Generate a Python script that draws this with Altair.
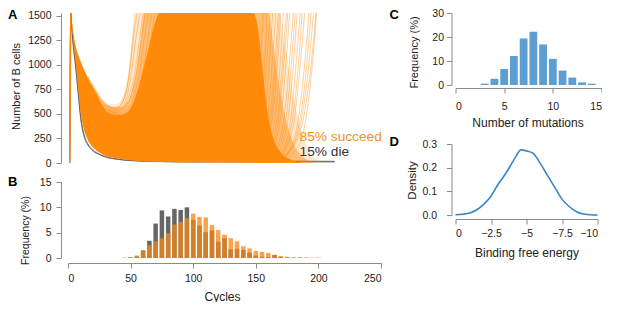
import altair as alt
import pandas as pd

FONT = "Liberation Sans"
ORANGE = "#ff8a0a"
ORANGE_TXT = "#f7901e"
BAR_ORANGE = "#f78813"
BAR_GRAY = "#666666"
BLUE = "#5e9fd3"
LINE_BLUE = "#3a85c4"
AXC = "#8a8a8a"
LAB = "#222222"

# ---------------- Panel A : trajectories ----------------
core_cycle = [2.2, 3, 4, 5, 6, 8, 10, 12, 14, 16, 18, 20, 23, 26, 30, 35, 40, 45, 50, 55,
              60, 65, 70, 73, 100, 130, 148, 152, 155, 158, 161, 164, 168, 172, 177, 182, 187]
core_high = [1530, 1450, 1360, 1270, 1200, 1110, 1040, 975, 920, 865, 815, 770, 700, 620, 540,
             500, 490, 500, 560, 720, 950, 1200, 1450, 1530, 1530, 1530, 1530, 1350, 1000, 650,
             400, 250, 140, 80, 40, 15, 3]
core_low = [1530, 1400, 1280, 1150, 1045, 780, 520, 380, 290, 230, 190, 160, 125, 100, 75,
            58, 45, 35, 28, 22, 18, 15, 12, 11, 7, 5, 4, 4, 4, 3, 3, 3, 3, 2, 2, 1, 1]

med_cycle = [16, 20, 25, 30, 35, 40, 45, 50, 54, 58, 61, 100, 160, 164, 168, 172, 176, 180,
             185, 190, 196]
med_high = [890, 800, 690, 610, 575, 565, 590, 690, 900, 1250, 1530, 1530, 1530, 1200, 850,
            560, 350, 200, 100, 40, 10]
med_low = [230, 160, 108, 75, 58, 45, 35, 28, 23, 20, 18, 7, 3, 3, 3, 2, 2, 1, 1, 1, 0]

halo_cycle = [22, 26, 30, 35, 40, 44, 48, 52, 55, 100, 168, 172, 176, 180, 184, 188, 192,
              196, 201, 206]
halo_high = [760, 660, 620, 600, 610, 680, 880, 1250, 1530, 1530, 1530, 1300, 1000, 700, 450,
             260, 130, 60, 20, 5]
halo_low = [140, 100, 75, 58, 45, 37, 30, 25, 22, 7, 3, 2, 2, 2, 1, 1, 1, 1, 0, 0]

left_fringe_cycles = [
    [28, 34, 39, 44, 48, 51, 53.6],
    [28, 34, 40, 45, 49, 52, 55],
    [30, 36, 41, 46, 50, 54, 57.5],
    [30, 37, 43, 48, 53, 57, 60],
    [32, 38, 45, 50, 55, 59, 62],
    [32, 40, 47, 52, 57, 61, 64.5],
    [34, 42, 49, 55, 60, 64, 67],
    [36, 44, 51, 57, 62, 66, 69.5],
]
left_fringe_values = [
    [600, 570, 560, 640, 850, 1200, 1530],
    [580, 560, 570, 660, 900, 1250, 1530],
    [560, 540, 560, 640, 870, 1250, 1530],
    [550, 530, 560, 660, 900, 1250, 1530],
    [540, 520, 560, 680, 950, 1300, 1530],
    [530, 510, 540, 650, 920, 1280, 1530],
    [520, 500, 530, 650, 930, 1290, 1530],
    [510, 490, 520, 640, 900, 1260, 1530],
]

right_fringe_cycles = [
    [120, 138, 146, 151, 154, 156],
    [122, 140, 149, 154, 157, 159],
    [125, 143, 151, 156, 159, 161.5],
    [127, 145, 153, 158, 161, 163.5],
    [128, 147, 155, 160, 163, 166],
    [130, 149, 157, 162, 165.5, 168],
    [132, 150, 158, 163, 166.5, 169],
    [133, 151, 159, 164, 167.5, 170],
    [135, 153, 161, 166, 169.5, 172],
    [137, 155, 163, 168, 171.5, 174.5],
    [138, 156, 164, 169, 172.5, 175.5],
    [140, 157, 165, 170, 174, 177],
    [142, 159, 167, 173, 177, 180],
    [143, 160, 168, 174.5, 178.5, 181.5],
    [145, 162, 170, 176, 180, 183],
    [147, 164, 172, 178, 182, 185.5],
    [148, 165, 173.5, 179.5, 184, 187],
    [150, 166, 175, 181, 185.5, 189],
    [152, 168, 177, 184, 189, 192.5],
    [153, 169, 179, 186, 191, 194],
    [155, 170, 181, 188, 193, 196],
    [150, 165, 171.6, 183.5, 190, 195, 198],
    [157, 172, 183, 190, 195, 198.5],
]
right_fringe_values = [
    [15, 70, 230, 560, 1050, 1530],
    [14, 65, 220, 540, 1020, 1530],
    [13, 60, 210, 560, 1080, 1530],
    [12, 62, 230, 580, 1060, 1530],
    [12, 58, 200, 520, 1000, 1530],
    [11, 55, 210, 560, 1080, 1530],
    [11, 54, 205, 545, 1060, 1530],
    [10, 52, 200, 530, 1040, 1530],
    [10, 50, 190, 520, 1020, 1530],
    [9, 50, 200, 540, 1060, 1530],
    [9, 48, 190, 520, 1030, 1530],
    [9, 45, 180, 480, 1000, 1530],
    [8, 42, 170, 500, 1050, 1530],
    [8, 41, 165, 490, 1020, 1530],
    [8, 40, 160, 480, 1000, 1530],
    [7, 38, 150, 460, 980, 1530],
    [7, 36, 155, 465, 990, 1530],
    [7, 35, 160, 470, 1000, 1530],
    [6, 32, 140, 450, 1000, 1530],
    [6, 36, 170, 500, 1040, 1530],
    [6, 40, 200, 560, 1080, 1530],
    [10, 35, 73, 250, 600, 1100, 1530],
    [5, 30, 150, 450, 980, 1530],
]

spike_cycles = [[1.4, 2.2]]
spike_values = [[0, 1530]]

gray_cycles = [1.4, 2.2, 3, 4.5, 6, 8, 10, 13, 16, 20, 25, 30, 40, 50, 70, 100, 140, 180, 213]
gray_values = [
    [0, 1530, 1380, 1170, 1010, 740, 480, 270, 185, 125, 88, 62, 38, 25, 16, 12, 14, 16, 14],
    [0, 1530, 1370, 1150, 990, 720, 460, 260, 180, 120, 85, 60, 36, 24, 14, 10, 10, 12, 10],
    [0, 1530, 1390, 1190, 1030, 760, 500, 290, 195, 135, 92, 66, 40, 27, 18, 14, 18, 20, 18],
]

outcome_labels = ["85% succeed", "15% die"]
outcome_cycle = [185, 185]
outcome_value = [262, 112]
outcome_color = [ORANGE_TXT, "#333333"]

# ---------------- Panel B : histogram of cycles ----------------
b_cycle = list(range(45, 205, 5))
b_succeed = [0.1, 0.2, 0.5, 1.4, 2.5, 3.3, 3.9, 4.9, 6.6, 7.1, 7.9, 8.75, 8.1, 8.0, 6.5, 5.5,
             4.6, 3.9, 3.3, 2.3, 1.9, 1.4, 1.2, 1.0, 0.65, 0.4, 0.25, 0.2, 0.2, 0.15, 0.1, 0.1]
b_die = [0, 0.1, 0.3, 1.5, 3.4, 6.8, 9.4, 8.2, 9.7, 9.5, 10.0, 7.5, 6.4, 5.1, 5.4, 3.2,
         3.9, 1.7, 1.8, 1.6, 1.05, 0.5, 0.25, 0.2, 0.6, 0.2, 0.1, 0, 0, 0, 0, 0]

# ---------------- Panel C : number of mutations ----------------
c_mut = [3, 4, 5, 6, 7, 8, 9, 10, 11, 12, 13, 14]
c_freq = [0.55, 2.6, 6.7, 12.1, 19.4, 22.2, 16.9, 10.9, 6.0, 3.1, 1.1, 0.55]

# ---------------- Panel D : binding free energy density ----------------
d_energy = [0, -0.5, -1, -1.5, -2, -2.5, -3, -3.5, -4, -4.3, -4.6, -5, -5.45, -6, -6.5, -7,
            -7.5, -8, -8.5, -9, -9.5, -10]
d_density = [0.001, 0.003, 0.008, 0.022, 0.046, 0.079, 0.13, 0.172, 0.222, 0.252, 0.275,
             0.271, 0.261, 0.215, 0.165, 0.116, 0.067, 0.036, 0.015, 0.004, 0.001, 0.0]


# ---------- helpers ----------
def lines_df(cyc_lists, val_lists, prefix):
    rows = []
    for i, (cs, vs) in enumerate(zip(cyc_lists, val_lists)):
        for c, v in zip(cs, vs):
            rows.append({"id": f"{prefix}{i}", "cycle": c, "value": v})
    return pd.DataFrame(rows)


def band_df(cs, hi, lo):
    return pd.DataFrame({"cycle": cs, "value": hi, "value2": lo})


def common_axis(**kw):
    base = dict(grid=False, tickSize=5, domainColor=AXC, tickColor=AXC, labelColor=LAB,
                titleColor=LAB, labelFont=FONT, titleFont=FONT, labelFontSize=10.5,
                titleFontWeight="normal", titleAlign="center", titleBaseline="middle")
    base.update(kw)
    return alt.Axis(**base)


def letter(txt, x, y):
    return alt.Chart(pd.DataFrame({"t": [txt]})).mark_text(
        align="left", baseline="top", font=FONT, fontSize=13, fontWeight="bold",
        color="#000000").encode(x=alt.value(x), y=alt.value(y), text="t:N")


# ---------- Panel A ----------
xA = alt.X("cycle:Q", scale=alt.Scale(domain=[0, 250], nice=False, zero=False), axis=None)
yA = alt.Y("value:Q", scale=alt.Scale(domain=[0, 1530], nice=False),
           axis=common_axis(values=[0, 250, 500, 750, 1000, 1250, 1500], format="d",
                            title="Number of B cells", offset=7, labelPadding=5,
                            titleFontSize=11, titleX=-45, titleY=73, titleAngle=-90))

gray_df = lines_df([gray_cycles] * len(gray_values), gray_values, "g")
gray_layer = alt.Chart(gray_df).mark_line(color="#555555", strokeWidth=1, opacity=0.6, clip=True,
                                          interpolate="monotone").encode(x=xA, y=yA, detail="id:N")
halo = alt.Chart(band_df(halo_cycle, halo_high, halo_low)).mark_area(
    color=ORANGE, opacity=0.2, interpolate="monotone", clip=True).encode(x=xA, y=yA, y2="value2:Q")
med = alt.Chart(band_df(med_cycle, med_high, med_low)).mark_area(
    color=ORANGE, opacity=0.45, interpolate="monotone", clip=True).encode(x=xA, y=yA, y2="value2:Q")
core = alt.Chart(band_df(core_cycle, core_high, core_low)).mark_area(
    color=ORANGE, opacity=1.0, interpolate="monotone", clip=True).encode(x=xA, y=yA, y2="value2:Q")
fringe_df = pd.concat([lines_df(left_fringe_cycles, left_fringe_values, "l"),
                       lines_df(right_fringe_cycles, right_fringe_values, "r")])
fringe = alt.Chart(fringe_df).mark_line(color=ORANGE, strokeWidth=0.9, opacity=0.45, clip=True,
                                        interpolate="monotone").encode(x=xA, y=yA, detail="id:N")
spike = alt.Chart(lines_df(spike_cycles, spike_values, "s")).mark_line(
    color=ORANGE, strokeWidth=1.4, clip=True).encode(x=xA, y=yA, detail="id:N")
outcome_df = pd.DataFrame({"label": outcome_labels, "cycle": outcome_cycle,
                           "value": outcome_value, "col": outcome_color})
outcome = alt.Chart(outcome_df).mark_text(align="left", baseline="middle", font=FONT,
                                          fontSize=13.7).encode(
    x=xA, y=yA, text="label:N", color=alt.Color("col:N", scale=None))

panelA = alt.layer(gray_layer, halo, med, core, fringe, spike, outcome,
                   letter("A", -60, -4)).properties(width=313, height=150)

# ---------- Panel B ----------
b_df = pd.DataFrame({"cycle": b_cycle, "succeed": b_succeed, "die": b_die})
xB = alt.X("cycle:Q", scale=alt.Scale(domain=[0, 250], nice=False, zero=False, padding=0),
           axis=common_axis(values=[0, 50, 100, 150, 200, 250], title="Cycles", offset=5,
                            labelPadding=5, titleFontSize=12, titleX=154, titleY=33))
yB_axis = common_axis(values=[0, 5, 10, 15], format="d", title="Frequency (%)", offset=7,
                      labelPadding=5, titleFontSize=10.5, titleX=-36, titleY=48, titleAngle=-90)
die_bars = alt.Chart(b_df).mark_bar(size=4.5, color=BAR_GRAY, orient="vertical").encode(
    x=xB, y=alt.Y("die:Q", scale=alt.Scale(domain=[0, 15], nice=False), axis=yB_axis))
succ_bars = alt.Chart(b_df).mark_bar(size=4.5, color=BAR_ORANGE, opacity=0.76,
                                     orient="vertical").encode(
    x=xB, y=alt.Y("succeed:Q", scale=alt.Scale(domain=[0, 15], nice=False), axis=yB_axis))
panelB = alt.layer(die_bars, succ_bars, letter("B", -60, -6.5)).properties(width=313, height=76)

# ---------- Panel C ----------
c_df = pd.DataFrame({"mutations": c_mut, "freq": c_freq})
panelC = alt.layer(
    alt.Chart(c_df).mark_bar(size=7.8, color=BLUE, orient="vertical").encode(
        x=alt.X("mutations:Q", scale=alt.Scale(domain=[0, 15], nice=False, zero=False, padding=0),
                axis=common_axis(values=[0, 5, 10, 15], format="d", title="Number of mutations",
                                 offset=3, labelPadding=8, titleFontSize=12, titleX=72,
                                 titleY=34)),
        y=alt.Y("freq:Q", scale=alt.Scale(domain=[0, 30], nice=False),
                axis=common_axis(values=[0, 10, 20, 30], format="d", title="Frequency (%)",
                                 offset=4, labelPadding=3, titleFontSize=11, titleX=-37,
                                 titleY=39, titleAngle=-90))),
    letter("C", -66, -4),
).properties(width=146, height=72)

# ---------- Panel D ----------
d_df = pd.DataFrame({"energy": d_energy, "density": d_density})
panelD = alt.layer(
    alt.Chart(d_df).mark_line(color=LINE_BLUE, strokeWidth=1.6, interpolate="monotone").encode(
        x=alt.X("energy:Q", scale=alt.Scale(domain=[0, -10], nice=False, zero=False),
                axis=common_axis(values=[0, -2.5, -5, -7.5, -10],
                                 labelExpr="datum.value == 0 ? '0' : '\u2212' + format(-datum.value, '~g')",
                                 title="Binding free energy", offset=4, labelPadding=4.5,
                                 titleFontSize=12, titleX=71, titleY=33)),
        y=alt.Y("density:Q", scale=alt.Scale(domain=[0, 0.3], nice=False),
                axis=common_axis(values=[0, 0.1, 0.2, 0.3], format=".1f", title="Density",
                                 offset=4, labelPadding=10, titleFontSize=11.5, titleX=-39,
                                 titleY=36, titleAngle=-90))),
    letter("D", -66, -7.8),
).properties(width=142, height=71)

left_col = alt.vconcat(panelA, panelB, spacing=6)
right_col = alt.vconcat(panelC, panelD, spacing=8)
chart = alt.hconcat(left_col, right_col, spacing=7.5).properties(
    padding=0).configure_view(stroke=None)

chart.save("out.html", embed_options={"renderer": "svg", "actions": False})
